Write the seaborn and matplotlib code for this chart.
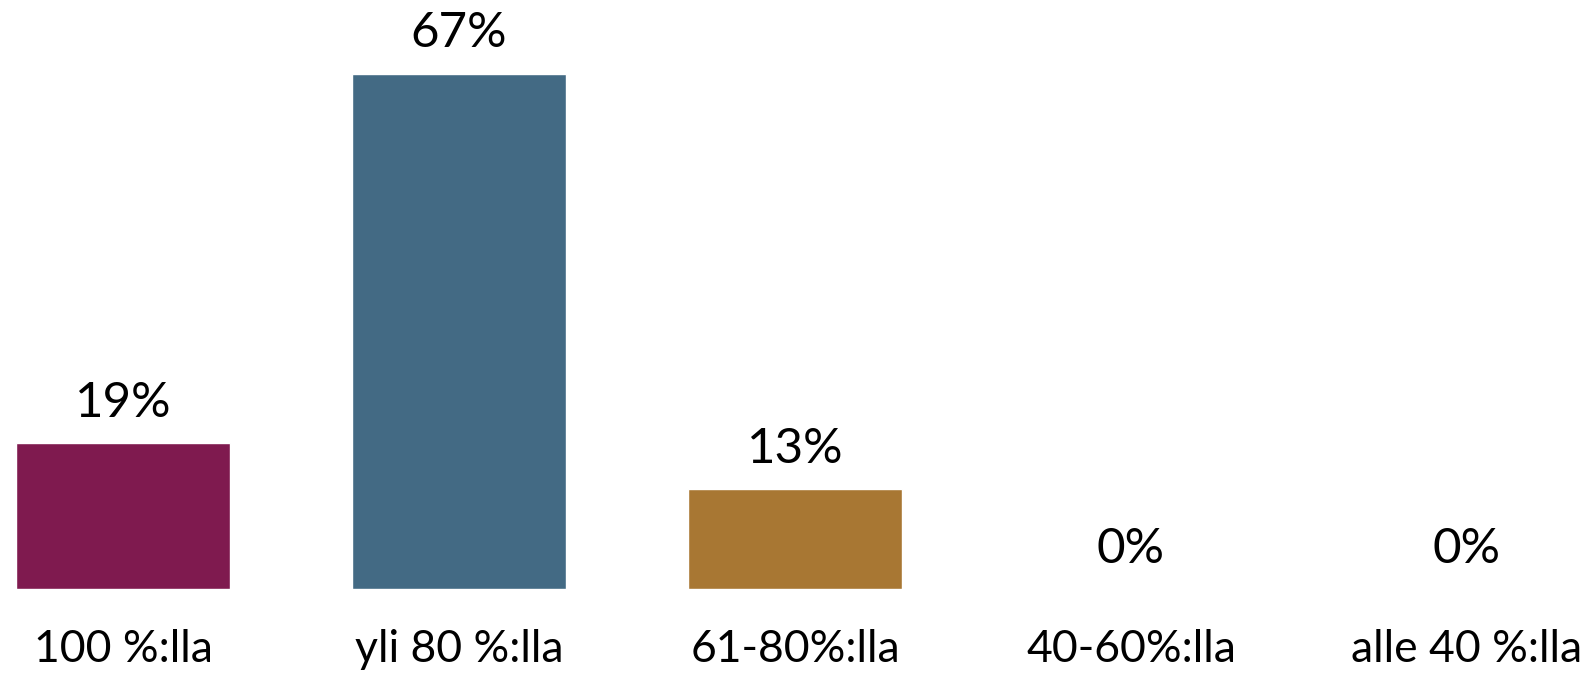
import matplotlib
matplotlib.use("Agg")
import matplotlib.pyplot as plt
import seaborn as sns
import pandas as pd

# data
categories = ["100 %:lla", "yli 80 %:lla", "61-80%:lla", "40-60%:lla", "alle 40 %:lla"]
values = [19, 67, 13, 0, 0]
colors = ["#7f1a4f", "#436a84", "#a87733", "#5b7d3a", "#8a8a8a"]

df = pd.DataFrame({"cat": categories, "val": values})

sns.set_style("white")
plt.rcParams["font.family"] = ["Lato", "DejaVu Sans"]

fig = plt.figure(figsize=(15.95, 6.8), dpi=100)
ax = fig.add_axes([0, 91 / 680, 1, 589 / 680])

sns.barplot(data=df, x="cat", y="val", hue="cat", palette=colors,
            width=0.637, legend=False, saturation=1, ax=ax)

ax.set_xlim(-0.366, 4.381)
ax.set_ylim(0, 76.6)

# value labels above each bar
for patch, v in zip(ax.patches, values):
    ax.annotate(f"{v}%", (patch.get_x() + patch.get_width() / 2, patch.get_height()),
                xytext=(0, 19), textcoords="offset points",
                ha="center", va="baseline", fontsize=35.5, color="black")

ax.set_xlabel("")
ax.set_ylabel("")
ax.set_yticks([])
ax.tick_params(axis="x", length=0, pad=29, labelsize=32, labelcolor="black")
sns.despine(ax=ax, left=True, bottom=True)

fig.savefig("out.png", dpi=100)
